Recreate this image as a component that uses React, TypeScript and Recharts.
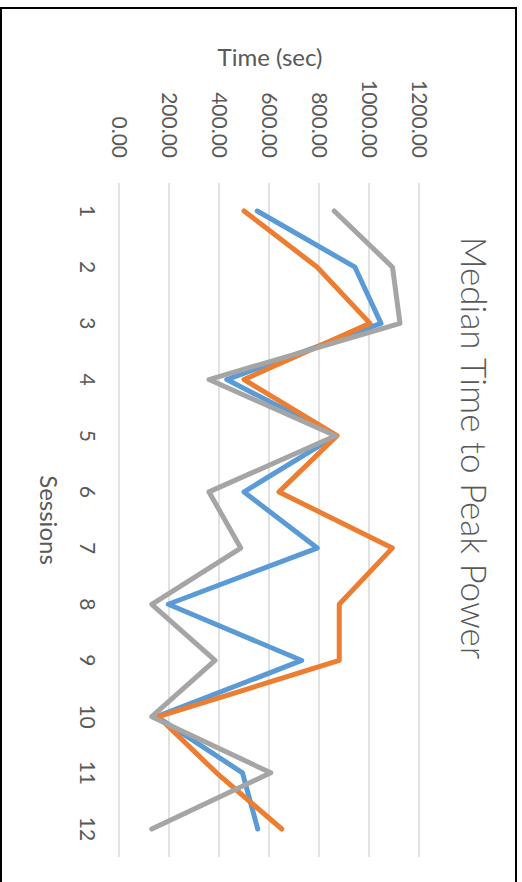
import React from 'react';
import { LineChart, Line, XAxis, YAxis, CartesianGrid } from 'recharts';

const sessions = ['1', '2', '3', '4', '5', '6', '7', '8', '9', '10', '11', '12'];
const seriesBlue = [553, 944, 1048, 431, 868, 500, 793, 197, 731, 151, 494, 555];
const seriesOrange = [500, 793, 1004, 500, 872, 640, 1093, 881, 881, 157, 390, 651];
const seriesGray = [861, 1094, 1124, 360, 866, 360, 487, 131, 384, 131, 607, 131];
const valueTicks = [0, 200, 400, 600, 800, 1000, 1200];

const data = sessions.map((s, i) => ({
  session: s,
  blue: seriesBlue[i],
  orange: seriesOrange[i],
  gray: seriesGray[i],
}));

const FONT = 'Lato, "Open Sans", sans-serif';
const TXT = '#595959';

export default function App() {
  return (
    <div style={{ position: 'absolute', left: 0, top: 0, width: 522, height: 882, overflow: 'hidden', background: '#fff' }}>
      <div
        style={{
          position: 'absolute',
          left: 0,
          top: 0,
          width: 882,
          height: 522,
          transformOrigin: '0 0',
          transform: 'translate(522px, 0px) rotate(90deg)',
        }}
      >
        <LineChart width={882} height={522} data={data} margin={{ top: 103, right: 25, bottom: 0, left: 0 }}>
          <CartesianGrid vertical={false} stroke="#d9d9d9" strokeWidth={1.5} />
          <XAxis
            dataKey="session"
            height={119}
            axisLine={false}
            tickLine={false}
            tickSize={0}
            tickMargin={24}
            padding={{ left: 28, right: 28 }}
            tick={{ fill: TXT, fontSize: 21, fontFamily: FONT }}
            interval={0}
          />
          <YAxis
            width={183}
            domain={[0, 1200]}
            ticks={valueTicks}
            axisLine={false}
            tickLine={false}
            tickSize={0}
            tickMargin={25}
            tickFormatter={(v: number) => v.toFixed(2)}
            tick={{ fill: TXT, fontSize: 21, fontFamily: FONT }}
          />
          <Line dataKey="blue" stroke="#5B9BD5" strokeWidth={5} dot={false} isAnimationActive={false} strokeLinecap="round" strokeLinejoin="round" />
          <Line dataKey="orange" stroke="#ED7D31" strokeWidth={5} dot={false} isAnimationActive={false} strokeLinecap="round" strokeLinejoin="round" />
          <Line dataKey="gray" stroke="#A5A5A5" strokeWidth={5} dot={false} isAnimationActive={false} strokeLinecap="round" strokeLinejoin="round" />
        </LineChart>
        <svg width={882} height={522} style={{ position: 'absolute', left: 0, top: 0, pointerEvents: 'none' }}>
          <text x={448} y={61} textAnchor="middle" fill={TXT} fontFamily={FONT} fontWeight={300} fontSize={35}>
            Median Time to Peak Power
          </text>
          <text x={520} y={482} textAnchor="middle" fill={TXT} fontFamily={FONT} fontSize={24}>
            Sessions
          </text>
          <text transform="translate(66, 252) rotate(-90)" textAnchor="middle" fill={TXT} fontFamily={FONT} fontSize={24}>
            Time (sec)
          </text>
        </svg>
      </div>
      <div
        style={{
          position: 'absolute',
          left: 0,
          top: 7,
          width: 517,
          height: 900,
          boxSizing: 'border-box',
          borderTop: '2px solid #000',
          borderLeft: '2px solid #000',
          borderRight: '2px solid #000',
        }}
      />
    </div>
  );
}
